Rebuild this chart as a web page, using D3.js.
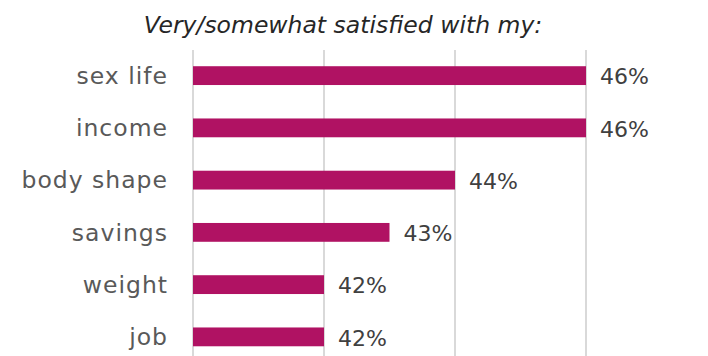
<!DOCTYPE html>
<html>
<head>
<meta charset="utf-8">
<script src="https://cdn.jsdelivr.net/npm/d3@7"></script>
<style>
  body { margin: 0; background: #fff; }
  text { font-family: 'DejaVu Sans', sans-serif; }
</style>
</head>
<body>
<script>
const categories = ['sex life', 'income', 'body shape', 'savings', 'weight', 'job']
const values = [46, 46, 44, 43, 42, 42]
const gridTicks = [40, 42, 44, 46]

const w = 708
const h = 356

const svg = d3.select('body')
    .append('svg')
        .attr('width', w)
        .attr('height', h)

// x scale starts at 40%, so the bars show only the top part
const xScale = d3.scaleLinear()
    .domain([40, 46])
    .range([193, 586])

const yScale = d3.scaleBand()
    .domain(categories)
    .range([49.5, 363])
    .paddingInner(0.64)
    .paddingOuter(0.32)

// Gridlines
svg.selectAll('.grid')
    .data(gridTicks)
    .enter()
    .append('line')
        .attr('class', 'grid')
        .attr('x1', d => xScale(d))
        .attr('x2', d => xScale(d))
        .attr('y1', 50)
        .attr('y2', h)
        .attr('stroke', '#d9d9d9')
        .attr('stroke-width', 2)

// Bars
svg.selectAll('.bar')
    .data(values)
    .enter()
    .append('rect')
        .attr('class', 'bar')
        .attr('x', xScale(40))
        .attr('y', (d, i) => yScale(categories[i]))
        .attr('width', d => xScale(d) - xScale(40))
        .attr('height', yScale.bandwidth())
        .attr('fill', '#b01263')

// Category labels
svg.selectAll('.cat')
    .data(categories)
    .enter()
    .append('text')
        .attr('class', 'cat')
        .attr('x', 168)
        .attr('y', d => yScale(d) + yScale.bandwidth() / 2)
        .attr('dy', '0.35em')
        .attr('text-anchor', 'end')
        .attr('font-size', 23.5)
        .attr('letter-spacing', 1)
        .attr('fill', '#595959')
        .text(d => d)

// Value labels
svg.selectAll('.val')
    .data(values)
    .enter()
    .append('text')
        .attr('class', 'val')
        .attr('x', d => xScale(d) + 14)
        .attr('y', (d, i) => yScale(categories[i]) + yScale.bandwidth() / 2 + 1)
        .attr('dy', '0.35em')
        .attr('font-size', 22)
        .attr('fill', '#404040')
        .text(d => d + '%')

svg.append('text')
    .attr('x', 343)
    .attr('y', 33)
    .attr('text-anchor', 'middle')
    .attr('font-size', 23.5)
    .attr('font-style', 'italic')
    .attr('fill', '#262626')
    .text('Very/somewhat satisfied with my:')
</script>
</body>
</html>
